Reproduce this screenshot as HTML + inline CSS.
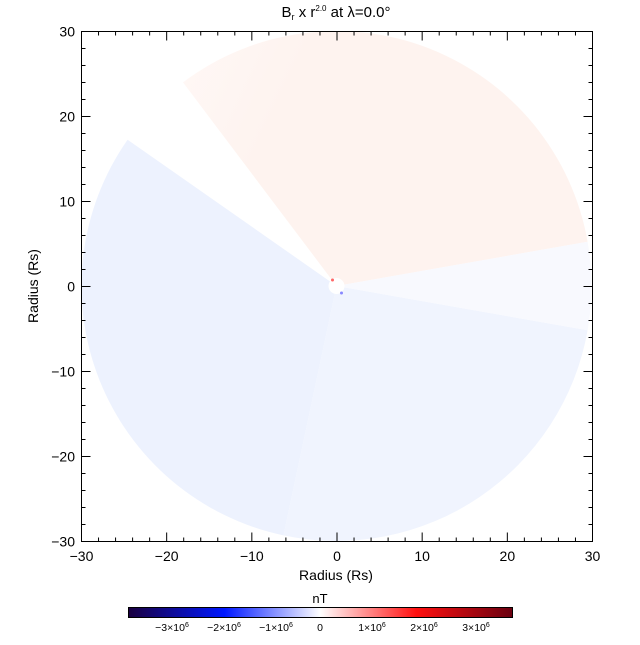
<!DOCTYPE html>
<html><head><style>
body{margin:0;background:#fff;}
svg text{font-family:"Liberation Sans",sans-serif;fill:#000;}
</style></head><body>
<svg width="640" height="640" xmlns="http://www.w3.org/2000/svg">
<defs>
<linearGradient id="cb" x1="0" x2="1" y1="0" y2="0">
<stop offset="0" stop-color="#1a0040"/>
<stop offset="0.25" stop-color="#0018ff"/>
<stop offset="0.5" stop-color="#ffffff"/>
<stop offset="0.75" stop-color="#ff1010"/>
<stop offset="1" stop-color="#6a0010"/>
</linearGradient>
<linearGradient id="pk" x1="0" y1="0" x2="1" y2="0.3">
<stop offset="0" stop-color="#fff8f6"/>
<stop offset="0.3" stop-color="#fef3ef"/>
<stop offset="1" stop-color="#fef3ef"/>
</linearGradient>
</defs>
<g transform="translate(336.5,286)">
<path d="M0 0 L251.1 -44.3 A255 255 0 0 0 -153.5 -203.6 Z" fill="url(#pk)"/>
<path d="M0 0 L-208.9 -146.3 A255 255 0 0 0 -53 249.4 Z" fill="#edf2fe"/>
<path d="M0 0 L-53 249.4 A255 255 0 0 0 251.1 44.3 Z" fill="#f0f4fe"/>
<path d="M0 0 L251.1 44.3 A255 255 0 0 0 251.1 -44.3 Z" fill="#f8f9fe"/>
<circle r="8" fill="#fff"/>
<circle cx="-4" cy="-6" r="1.5" fill="#f66"/>
<circle cx="5" cy="7" r="1.5" fill="#88f"/>
</g>
<rect x="81.5" y="31.5" width="511" height="510" fill="none" stroke="#000" stroke-width="1"/>
<g stroke="#000" stroke-width="1" id="ticks"></g>
<text x="336" y="17" font-size="15" text-anchor="middle">B<tspan font-size="9" dy="3">r</tspan><tspan dy="-3"> x r</tspan><tspan font-size="8" dy="-6">2.0</tspan><tspan dy="6"> at λ=0.0°</tspan></text>
<text x="336" y="580" font-size="14" text-anchor="middle">Radius (Rs)</text>
<text transform="translate(38,286) rotate(-90)" font-size="14" text-anchor="middle">Radius (Rs)</text>
<text x="320" y="603" font-size="13" text-anchor="middle">nT</text>
<rect x="128.5" y="607.5" width="384" height="10" fill="url(#cb)" stroke="#000"/>
<g font-size="10.5" text-anchor="middle">
<text x="172" y="631">−3×10<tspan font-size="7" dy="-4">6</tspan></text>
<text x="224" y="631">−2×10<tspan font-size="7" dy="-4">6</tspan></text>
<text x="276" y="631">−1×10<tspan font-size="7" dy="-4">6</tspan></text>
<text x="320" y="631">0</text>
<text x="372" y="631">1×10<tspan font-size="7" dy="-4">6</tspan></text>
<text x="424" y="631">2×10<tspan font-size="7" dy="-4">6</tspan></text>
<text x="476" y="631">3×10<tspan font-size="7" dy="-4">6</tspan></text>
</g>
<g font-size="14" id="labels"></g>
<script>
var t=document.getElementById('ticks'),l=document.getElementById('labels'),ns='http://www.w3.org/2000/svg';
function ln(a,b,c,d){var e=document.createElementNS(ns,'line');e.setAttribute('x1',a);e.setAttribute('y1',b);e.setAttribute('x2',c);e.setAttribute('y2',d);t.appendChild(e);}
function tx(x,y,s,an){var e=document.createElementNS(ns,'text');e.setAttribute('x',x);e.setAttribute('y',y);e.setAttribute('text-anchor',an);e.textContent=s;l.appendChild(e);}
for(var v=-30;v<=30;v+=2){var x=81.5+(v+30)*511/60,y=541.5-(v+30)*510/60,L=(v%10==0)?9:4;
ln(x,541.5,x,541.5-L);ln(x,31.5,x,31.5+L);ln(81.5,y,81.5+L,y);ln(592.5,y,592.5-L,y);
if(v%10==0){var s=(v<0?'−':'')+Math.abs(v);tx(x,561,s,'middle');tx(75,y+5,s,'end');}}
</script>
</svg>
</body></html>
